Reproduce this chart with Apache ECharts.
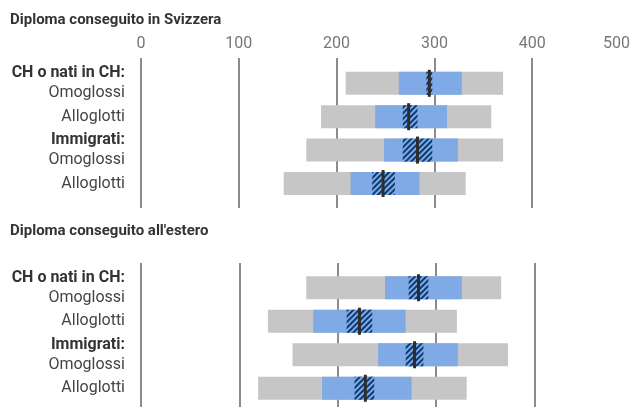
<!DOCTYPE html>
<html>
<head>
<meta charset="utf-8">
<script src="https://cdn.jsdelivr.net/npm/echarts@6/dist/echarts.min.js"></script>
<style>
  html, body { margin: 0; padding: 0; background: #fff; }
  #main { width: 633px; height: 407px; }
</style>
</head>
<body>
<div id="main"></div>
<script>
// righe del grafico
const categories = ['CH o nati in CH: Omoglossi', 'CH o nati in CH: Alloglotti', 'Immigrati: Omoglossi', 'Immigrati: Alloglotti'];
const xTicks = [0, 100, 200, 300, 400, 500];
const panelTitles = ['Diploma conseguito in Svizzera', "Diploma conseguito all'estero"];

// Diploma conseguito in Svizzera
const chLow = [208, 183, 168, 145];
const chHigh = [368, 356, 368, 330];
const chQ1 = [262, 238, 247, 213];
const chQ3 = [326, 311, 322, 283];
const chCiLow = [290, 266, 266, 235];
const chCiHigh = [296, 281, 296, 258];
const chMean = [293, 272, 281, 246];

// Diploma conseguito all'estero
const esLow = [168, 129, 154, 119];
const esHigh = [366, 321, 373, 331];
const esQ1 = [248, 175, 241, 184];
const esQ3 = [326, 269, 322, 275];
const esCiLow = [272, 209, 269, 217];
const esCiHigh = [292, 235, 287, 237];
const esMean = [282, 222, 278, 228];

const FONT = 'Roboto';
const GREY = '#c6c6c6';
const BLUE = '#7faae6';

var myChart = echarts.init(document.getElementById('main'), null, { renderer: 'canvas' });

const diff = (a, b) => b.map((v, i) => v - a[i]);

// una coppia di barre impilate (base trasparente + intervallo)
const rangeBars = (idx, name, lo, hi, style) => [
    {
        type: 'bar', xAxisIndex: idx, yAxisIndex: idx, stack: name + idx,
        data: lo, barWidth: 23, barGap: '-100%', silent: true,
        itemStyle: { color: 'transparent' }
    },
    {
        type: 'bar', xAxisIndex: idx, yAxisIndex: idx, stack: name + idx,
        data: diff(lo, hi), barWidth: 23, barGap: '-100%',
        itemStyle: style
    }
];

const panelSeries = (idx, lo, hi, q1, q3, ciLo, ciHi, mean) => [
    ...rangeBars(idx, 'g', lo, hi, { color: GREY }),
    ...rangeBars(idx, 'b', q1, q3, { color: BLUE }),
    ...rangeBars(idx, 'c', ciLo, ciHi, {
        color: BLUE,
        decal: {
            symbol: 'rect', symbolSize: 1,
            dashArrayX: [1, 0], dashArrayY: [2, 2],
            rotation: -Math.PI / 4, color: '#0b3a70'
        }
    }),
    {
        type: 'scatter', xAxisIndex: idx, yAxisIndex: idx,
        symbol: 'rect', symbolSize: [3, 27],
        itemStyle: { color: '#2d2d2d', opacity: 1 },
        data: mean.map((m, i) => [m, i])
    }
];

const labelFormatter = (v) => {
    const parts = v.split(': ');
    if (parts[1] === 'Omoglossi') {
        return '{h|' + parts[0] + ':}\n{n|' + parts[1] + '}';
    }
    return '{n|' + parts[1] + '}';
};

// assi x: griglie delle linee (0, 2) e griglie delle barre (1, 3)
const lineXAxis = (gridIndex, showLabels) => ({
    type: 'value', gridIndex: gridIndex, min: xTicks[0], max: xTicks[xTicks.length - 1], interval: 100,
    position: 'top',
    axisLine: { show: false },
    axisTick: { show: false },
    axisLabel: {
        show: showLabels, margin: 6, color: '#777', fontFamily: FONT, fontSize: 16,
        alignMaxLabel: 'right'
    },
    splitLine: { show: true, showMaxLine: false, lineStyle: { color: '#666', width: 1.5 } }
});

const barXAxis = (gridIndex) => ({
    type: 'value', gridIndex: gridIndex, min: xTicks[0], max: xTicks[xTicks.length - 1], show: false
});

const barYAxis = (gridIndex) => ({
    type: 'category', gridIndex: gridIndex, data: categories, inverse: true,
    axisLine: { show: false },
    axisTick: { show: false },
    axisLabel: {
        interval: 0, margin: 16, formatter: labelFormatter,
        rich: {
            h: { fontFamily: FONT, fontSize: 16, fontWeight: 'bold', color: '#333', lineHeight: 20, align: 'right' },
            n: { fontFamily: FONT, fontSize: 16, color: '#444', lineHeight: 20, align: 'right' }
        }
    }
});

const option = {
    animation: false,
    title: [
        { text: panelTitles[0], left: 5, top: 8, textStyle: { fontFamily: FONT, fontSize: 15, fontWeight: 'bold', color: '#333' } },
        { text: panelTitles[1], left: 5, top: 219, textStyle: { fontFamily: FONT, fontSize: 15, fontWeight: 'bold', color: '#333' } }
    ],
    grid: [
        { left: 141, width: 493.5, top: 58, height: 150 },
        { left: 141, width: 493.5, top: 66.6, height: 133.6 },
        { left: 141, width: 493.5, top: 263, height: 144 },
        { left: 141, width: 493.5, top: 271, height: 134 }
    ],
    xAxis: [lineXAxis(0, true), barXAxis(1), lineXAxis(2, false), barXAxis(3)],
    yAxis: [
        { type: 'value', gridIndex: 0, show: false },
        barYAxis(1),
        { type: 'value', gridIndex: 2, show: false },
        barYAxis(3)
    ],
    series: [
        ...panelSeries(1, chLow, chHigh, chQ1, chQ3, chCiLow, chCiHigh, chMean),
        ...panelSeries(3, esLow, esHigh, esQ1, esQ3, esCiLow, esCiHigh, esMean)
    ]
};

myChart.setOption(option);
</script>
</body>
</html>
